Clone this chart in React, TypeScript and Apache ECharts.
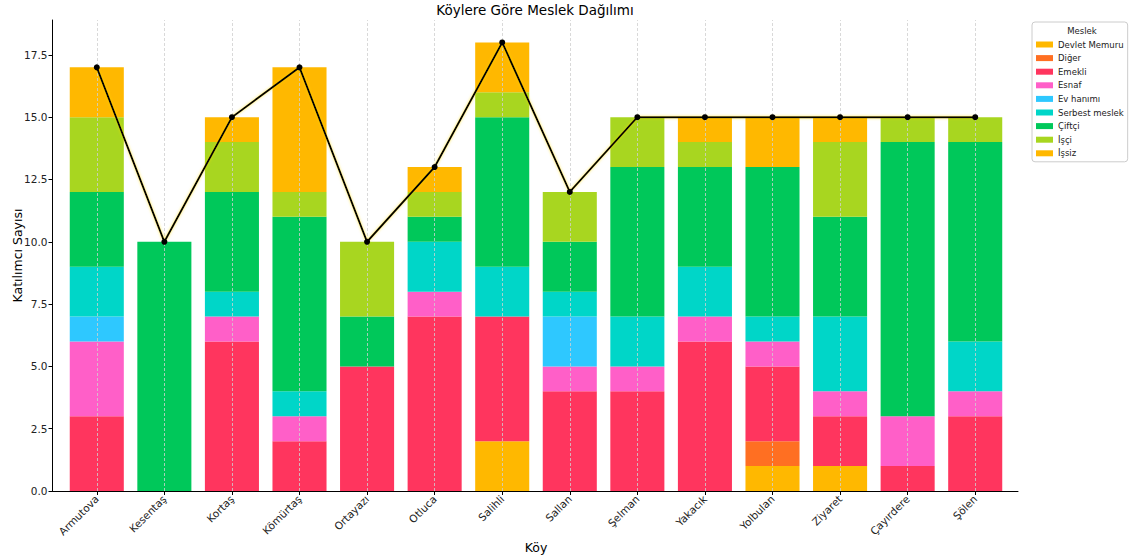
import React, { useEffect, useRef } from "react";
import * as echarts from "echarts";

const villages = [
  "Armutova", "Kesentaş", "Kortaş", "Kömürtaş", "Ortayazı", "Otluca", "Salihli",
  "Sallan", "Şelman", "Yakacık", "Yolbulan", "Ziyaret", "Çayırdere", "Şölen",
];

const devletMemuru = [0, 0, 0, 0, 0, 0, 2, 0, 0, 0, 1, 1, 0, 0];
const diger = [0, 0, 0, 0, 0, 0, 0, 0, 0, 0, 1, 0, 0, 0];
const emekli = [3, 0, 6, 2, 5, 7, 5, 4, 4, 6, 3, 2, 1, 3];
const esnaf = [3, 0, 1, 1, 0, 1, 0, 1, 1, 1, 1, 1, 2, 1];
const evHanimi = [1, 0, 0, 0, 0, 0, 0, 2, 0, 0, 0, 0, 0, 0];
const serbestMeslek = [2, 0, 1, 1, 0, 2, 2, 1, 2, 2, 1, 3, 0, 2];
const ciftci = [3, 10, 4, 7, 2, 1, 6, 2, 6, 4, 6, 4, 11, 8];
const isci = [3, 0, 2, 1, 3, 1, 1, 2, 2, 1, 0, 3, 1, 1];
const issiz = [2, 0, 1, 5, 0, 1, 2, 0, 0, 1, 2, 1, 0, 0];

const professions = [
  { name: "Devlet Memuru", data: devletMemuru, color: "#FFB800" },
  { name: "Diğer", data: diger, color: "#FF6F22" },
  { name: "Emekli", data: emekli, color: "#FF355E" },
  { name: "Esnaf", data: esnaf, color: "#FF5FC8" },
  { name: "Ev hanımı", data: evHanimi, color: "#2EC8FF" },
  { name: "Serbest meslek", data: serbestMeslek, color: "#00D6C8" },
  { name: "Çiftçi", data: ciftci, color: "#00C85A" },
  { name: "İşçi", data: isci, color: "#A8D620" },
  { name: "İşsiz", data: issiz, color: "#FFB800" },
];

const yTicks = [0, 2.5, 5, 7.5, 10, 12.5, 15, 17.5];

const FONT = "DejaVu Sans";

export default function App() {
  const ref = useRef<HTMLDivElement>(null);

  useEffect(() => {
    document.body.style.margin = "0";
    if (!ref.current) return;
    const chart = echarts.init(ref.current, undefined, { renderer: "svg" });

    const totals = villages.map((_, i) =>
      professions.reduce((s, p) => s + p.data[i], 0)
    );

    const barSeries = professions.map((p) => ({
      name: p.name,
      type: "bar",
      stack: "total",
      barWidth: "80%",
      xAxisIndex: 0,
      yAxisIndex: 0,
      itemStyle: { color: p.color },
      data: p.data,
      z: 2,
    }));

    const option: any = {
      animation: false,
      backgroundColor: "#ffffff",
      textStyle: { fontFamily: FONT },
      grid: [
        { left: 63, right: 123, top: 20, bottom: 69, containLabel: false, outerBoundsMode: "none" },
        { left: 52.5, right: 114, top: 20, bottom: 69, containLabel: false, outerBoundsMode: "none" },
      ],
      xAxis: [
        {
          gridIndex: 0,
          type: "category",
          data: villages,
          axisLine: { show: false },
          axisTick: {
            show: true,
            alignWithLabel: true,
            length: 4,
            lineStyle: { color: "#000", width: 1 },
          },
          axisLabel: {
            rotate: 45,
            margin: 6,
            fontSize: 10.5,
            color: "#222",
            fontFamily: FONT,
            interval: 0,
          },
          splitLine: { show: false },
          name: "Köy",
          nameLocation: "middle",
          nameGap: 50,
          nameMoveOverlap: false,
          nameTextStyle: { fontSize: 12.5, color: "#000", fontFamily: FONT },
        },
        {
          gridIndex: 1,
          type: "value",
          min: 0,
          max: 1,
          axisLine: { show: true, lineStyle: { color: "#000", width: 1 } },
          axisTick: { show: false },
          axisLabel: { show: false },
          splitLine: { show: false },
        },
      ],
      yAxis: [
        {
          gridIndex: 0,
          type: "value",
          min: 0,
          max: 18.9,
          interval: 2.5,
          offset: 10.5,
          axisLine: { show: true, lineStyle: { color: "#000", width: 1 } },
          axisTick: {
            show: true,
            length: 4,
            customValues: yTicks,
            lineStyle: { color: "#000", width: 1 },
          },
          axisLabel: {
            customValues: yTicks,
            formatter: (v: number) => v.toFixed(1),
            fontSize: 10.5,
            color: "#222",
            margin: 5,
            fontFamily: FONT,
          },
          splitLine: { show: false },
          name: "Katılımcı Sayısı",
          nameLocation: "middle",
          nameGap: 29,
          nameMoveOverlap: false,
          nameRotate: 90,
          nameTextStyle: { fontSize: 12.5, color: "#000", fontFamily: FONT },
        },
        {
          gridIndex: 1,
          type: "value",
          min: 0,
          max: 1,
          show: false,
        },
      ],
      legend: {
        orient: "vertical",
        left: 1032,
        top: 22,
        data: professions.map((p) => p.name),
        icon: "rect",
        itemWidth: 17,
        itemHeight: 6,
        itemGap: 2.6,
        padding: [17, 4, 3, 4],
        borderColor: "#cccccc",
        borderWidth: 1,
        borderRadius: 3,
        textStyle: { fontSize: 8.5, lineHeight: 11, color: "#222", fontFamily: FONT },
        selectedMode: false,
      },
      graphic: [
        {
          type: "text",
          style: {
            text: "Köylere Göre Meslek Dağılımı",
            x: 535,
            y: 10,
            textAlign: "center",
            textVerticalAlign: "middle",
            fontSize: 13.5,
            fontFamily: FONT,
            fill: "#000",
          },
        },
        {
          type: "text",
          style: {
            text: "Meslek",
            x: 1082,
            y: 31,
            textAlign: "center",
            textVerticalAlign: "middle",
            fontSize: 8.5,
            fontFamily: FONT,
            fill: "#222",
          },
        },
      ],
      series: [
        ...barSeries,
        {
          name: "Toplam",
          type: "line",
          xAxisIndex: 0,
          yAxisIndex: 0,
          data: totals,
          symbol: "circle",
          symbolSize: 6,
          itemStyle: { color: "#000" },
          lineStyle: {
            color: "#000",
            width: 2,
            shadowColor: "rgba(255,220,0,0.6)",
            shadowBlur: 3,
          },
          z: 5,
          markLine: {
            silent: true,
            symbol: ["none", "none"],
            label: { show: false },
            lineStyle: { color: "#cfcfcf", type: [3, 2], width: 0.8 },
            data: villages.map((v) => ({ xAxis: v })),
            z: 3,
          },
        },
      ],
    };

    chart.setOption(option);
    return () => chart.dispose();
  }, []);

  return <div ref={ref} style={{ width: 1132, height: 560 }} />;
}
